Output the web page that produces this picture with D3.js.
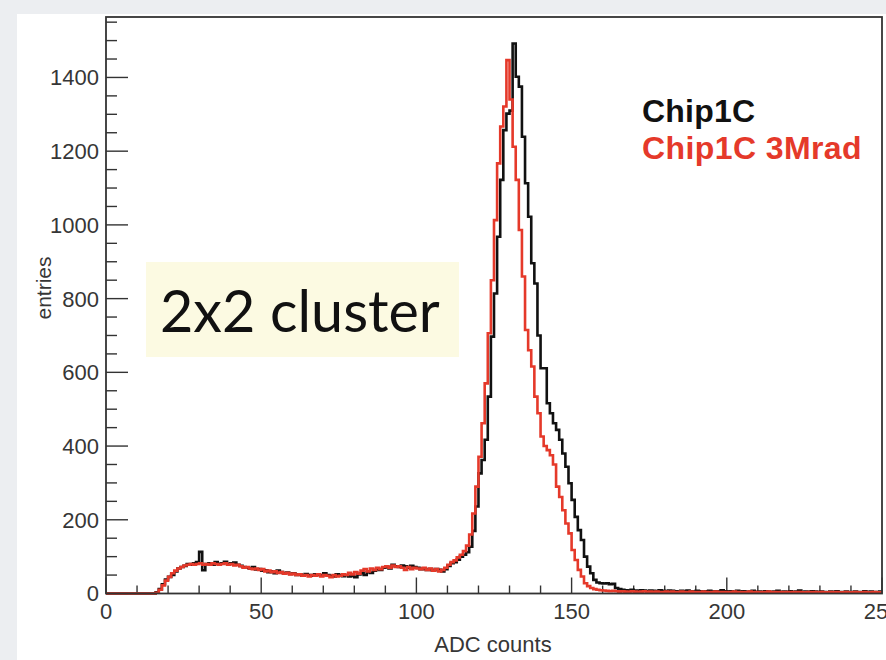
<!DOCTYPE html>
<html>
<head>
<meta charset="utf-8">
<script src="https://cdn.jsdelivr.net/npm/d3@7"></script>
<style>
  html, body { margin: 0; padding: 0; background: #eceef1; }
  svg { display: block; }
</style>
</head>
<body>
<svg id="chart" width="886" height="660"></svg>
<script>
// ---- data: histogram contents, one value per ADC bin (bin i covers [i, i+1)) ----
const binStart = 0;
const chip1C = [
  0,0,0,0,0,0,0,0,0,0, 0,0,0,0,0,0,3,12,25,38,
  45,50,60,68,72,75,80,78,82,85, 113,63,80,82,78,85,80,82,86,80,
  82,84,78,75,72,70,68,72,65,66, 62,63,58,60,55,62,58,55,57,53,
  55,50,52,48,53,50,48,52,50,49, 55,50,48,46,52,50,47,50,46,48,
  44,52,55,50,58,56,62,66,64,70, 72,68,78,74,72,76,74,70,75,72,
  70,66,68,64,66,62,66,64,60,66, 75,82,85,92,100,105,112,127,170,236,
  326,362,417,534,697,814,968,1122,1257,1302, 1310,1492,1402,1375,1239,1113,1022,896,841,700,
  611,611,516,489,462,444,417,380,344,299, 254,208,172,145,100,73,55,37,30,28,
  27,28,25,26,15,12,10,9,8,10, 8,7,9,8,6,8,7,6,9,7,
  6,8,7,6,5,7,6,8,6,5, 7,6,5,6,7,5,6,5,9,6,
  5,6,4,7,5,6,4,5,7,4, 5,4,6,5,4,5,7,4,5,4,
  6,4,5,8,4,5,4,6,5,4, 5,4,3,5,4,6,4,3,5,4,
  4,5,3,4,6,3,5,4,3,5
];
const chip1C3Mrad = [
  0,0,0,0,0,0,0,0,0,0, 0,0,0,0,0,0,2,10,22,35,
  45,55,62,68,72,76,78,80,78,80, 82,78,80,78,82,80,78,80,82,78,
  80,76,78,74,70,72,68,66,68,64, 66,60,62,58,60,56,58,54,56,52,
  54,50,52,48,50,46,50,48,52,46, 50,48,44,50,46,48,52,50,56,52,
  58,54,62,66,60,68,64,70,66,72, 74,70,76,72,74,70,64,72,66,70,
  68,66,70,64,68,62,66,60,64,70, 78,85,90,98,105,115,130,160,217,290,
  371,462,570,706,850,1013,1167,1267,1321,1447, 1340,1212,1122,986,860,715,660,616,534,489,
  426,400,389,375,350,290,262,226,190,163, 118,91,64,46,28,20,15,12,10,9,
  8,7,6,7,6,5,6,5,4,6, 5,4,5,6,4,5,4,5,4,3,
  5,4,5,3,4,5,4,3,5,4, 4,3,5,4,3,4,5,3,4,4,
  3,4,5,3,4,3,4,5,3,4, 3,4,3,5,3,4,3,4,3,4,
  3,4,3,4,3,3,4,3,4,3, 4,3,3,4,3,4,3,3,4,3,
  3,4,3,3,4,3,3,4,3,3
];
const seriesNames = ["Chip1C", "Chip1C 3Mrad"];
const seriesColors = ["#111111", "#e5392a"];
const xTicks = [0, 50, 100, 150, 200, 250];
const yTicks = [0, 200, 400, 600, 800, 1000, 1200, 1400];
const xDomain = [0, 250];
const yDomain = [0, 1564];
const xTitle = "ADC counts";
const yTitle = "entries";
const boxLabel = "2x2 cluster";

// ---- layout ----
const svg = d3.select("#chart");
const frame = { left: 106, right: 882, top: 17, bottom: 593.5 };

svg.append("rect").attr("x", 17).attr("y", 14).attr("width", 886 - 17).attr("height", 660 - 14).attr("fill", "#ffffff");

const x = d3.scaleLinear().domain(xDomain).range([frame.left, frame.right]);
const y = d3.scaleLinear().domain(yDomain).range([frame.bottom, frame.top]);

const axisColor = "#333333";
const tickFont = "'Liberation Sans', Arial, Helvetica, sans-serif";

// minor + major ticks (inside the frame, ROOT style)
const xMinor = d3.range(xDomain[0], xDomain[1] + 0.001, 10);
const yMinor = d3.range(0, yDomain[1], 50);

const g = svg.append("g");

// x ticks
g.selectAll(".xminor").data(xMinor).join("line")
  .attr("x1", d => x(d)).attr("x2", d => x(d))
  .attr("y1", frame.bottom).attr("y2", d => frame.bottom - (d % 50 === 0 ? 16 : 8))
  .attr("stroke", axisColor).attr("stroke-width", 1.4);

// y ticks
g.selectAll(".yminor").data(yMinor).join("line")
  .attr("x1", frame.left).attr("x2", d => frame.left + (d % 200 === 0 ? 22 : 11))
  .attr("y1", d => y(d)).attr("y2", d => y(d))
  .attr("stroke", axisColor).attr("stroke-width", 1.4);

// tick labels
g.selectAll(".xlab").data(xTicks).join("text")
  .attr("x", d => x(d)).attr("y", 619)
  .attr("text-anchor", "middle")
  .attr("font-family", tickFont).attr("font-size", 22).attr("fill", "#363636")
  .text(d => d);

g.selectAll(".ylab").data(yTicks).join("text")
  .attr("x", 99).attr("y", d => y(d)).attr("dy", "0.36em")
  .attr("text-anchor", "end")
  .attr("font-family", tickFont).attr("font-size", 22).attr("fill", "#363636")
  .text(d => d);

// axis titles
svg.append("text")
  .attr("x", 493).attr("y", 652)
  .attr("text-anchor", "middle")
  .attr("font-family", tickFont).attr("font-size", 22).attr("fill", "#363636")
  .text(xTitle);

svg.append("text")
  .attr("transform", "translate(51,288) rotate(-90)")
  .attr("text-anchor", "middle")
  .attr("font-family", tickFont).attr("font-size", 21).attr("fill", "#363636")
  .text(yTitle);

// label box
svg.append("rect").attr("x", 146).attr("y", 262).attr("width", 313).attr("height", 95).attr("fill", "#fcfae2");
svg.append("text")
  .attr("x", 160).attr("y", 332)
  .attr("font-family", "Lato, 'Open Sans', sans-serif").attr("font-size", 57.5).attr("fill", "#111")
  .text(boxLabel);

// histograms
const series = [chip1C, chip1C3Mrad];
const line = d3.line().x(d => x(d[0])).y(d => y(d[1])).curve(d3.curveStepAfter);
series.forEach((vals, si) => {
  const pts = vals.map((v, i) => [binStart + i, v]);
  pts.push([binStart + vals.length, vals[vals.length - 1]]);
  svg.append("path")
    .attr("d", line(pts))
    .attr("fill", "none")
    .attr("stroke", seriesColors[si])
    .attr("stroke-width", 2.6)
    .attr("stroke-linejoin", "miter");
});

// frame
svg.append("rect")
  .attr("x", frame.left).attr("y", frame.top)
  .attr("width", frame.right - frame.left).attr("height", frame.bottom - frame.top)
  .attr("fill", "none").attr("stroke", axisColor).attr("stroke-width", 1.8);

// legend
const legendY = [122, 159];
seriesNames.forEach((name, i) => {
  svg.append("text")
    .attr("x", 642).attr("y", legendY[i])
    .attr("font-family", tickFont).attr("font-weight", "bold").attr("font-size", 32)
    .attr("letter-spacing", i === 1 ? 0.4 : 0.2)
    .attr("fill", seriesColors[i])
    .text(name);
});
</script>
</body>
</html>
